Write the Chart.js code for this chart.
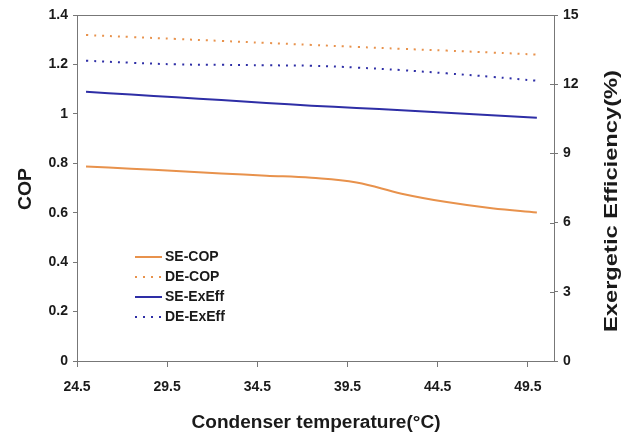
<!DOCTYPE html>
<html>
<head>
<meta charset="utf-8">
<script src="https://cdn.jsdelivr.net/npm/chart.js@4/dist/chart.umd.min.js"></script>
<style>
  body { margin: 0; background: #fff; }
  #wrap { width: 627px; height: 440px; }
</style>
</head>
<body>
<div id="wrap"><canvas id="copChart"></canvas></div>
<script>
// condenser temperature (C)
const temps = [25, 27.5, 30, 32.5, 35, 37.5, 40, 42.5, 45, 47.5, 50];
// COP, left axis
const seCop = [0.787, 0.778, 0.769, 0.759, 0.750, 0.741, 0.722, 0.677, 0.643, 0.618, 0.601];
const deCop = [1.319, 1.311, 1.303, 1.295, 1.287, 1.279, 1.271, 1.263, 1.256, 1.248, 1.240];
// exergetic efficiency (%), right axis
const seExEff = [11.67, 11.55, 11.43, 11.31, 11.19, 11.07, 10.97, 10.87, 10.76, 10.65, 10.55];
const deExEff = [13.02, 12.93, 12.86, 12.84, 12.82, 12.80, 12.72, 12.61, 12.47, 12.32, 12.15];
const xTicks = [24.5, 29.5, 34.5, 39.5, 44.5, 49.5];

const ORANGE = '#E8924C';
const BLUE = '#2E2EA6';
const AXIS = '#777';
const TXT = '#1a1a1a';
const FONT = '"Liberation Sans", Arial, sans-serif';

const pts = (arr) => arr.map((v, i) => ({ x: temps[i], y: v }));

const lineSet = (label, arr, color, dotted, axis) => ({
  label: label,
  data: pts(arr),
  yAxisID: axis,
  borderColor: color,
  backgroundColor: color,
  borderWidth: 2,
  borderDash: dotted ? [2, 6] : [],
  pointRadius: 0,
  fill: false,
  tension: 0.4
});

// titles, legend, top frame line and right-axis cross ticks
const extras = {
  id: 'extras',
  afterDraw(chart) {
    const ctx = chart.ctx;
    const a = chart.chartArea;
    ctx.save();
    ctx.strokeStyle = AXIS;
    ctx.lineWidth = 1;
    ctx.beginPath();
    ctx.moveTo(a.left, a.top + 0.5);
    ctx.lineTo(a.right, a.top + 0.5);
    const y2 = chart.scales.y2;
    y2.ticks.forEach(t => {
      const py = Math.round(y2.getPixelForValue(t.value)) + 0.5;
      ctx.moveTo(a.right - 4, py);
      ctx.lineTo(a.right, py);
    });
    ctx.stroke();

    const title = (text, x, y, rot, width) => {
      ctx.save();
      ctx.translate(x, y);
      ctx.rotate(rot);
      ctx.font = 'bold 18px ' + FONT;
      const w = ctx.measureText(text).width;
      if (width) ctx.scale(width / w, 1);
      ctx.fillStyle = TXT;
      ctx.textAlign = 'center';
      ctx.textBaseline = 'middle';
      ctx.fillText(text, 0, 0);
      ctx.restore();
    };
    title('COP', 26, 189, -Math.PI / 2, 42);
    title('Exergetic Efficiency(%)', 612, 201, -Math.PI / 2, 262);
    title('Condenser temperature(\u00B0C)', 316, 423, 0, 249);

    // legend
    ctx.font = 'bold 14px ' + FONT;
    ctx.textBaseline = 'middle';
    ctx.textAlign = 'left';
    chart.data.datasets.forEach((ds, i) => {
      const y = 257 + i * 20;
      ctx.strokeStyle = ds.borderColor;
      ctx.lineWidth = 2;
      ctx.setLineDash(ds.borderDash);
      ctx.beginPath();
      ctx.moveTo(135, y);
      ctx.lineTo(162, y);
      ctx.stroke();
      ctx.setLineDash([]);
      ctx.fillStyle = TXT;
      ctx.fillText(ds.label, 165, y);
    });
    ctx.restore();
  }
};

const tickFont = { family: FONT, size: 14, weight: 'bold' };

new Chart(document.getElementById('copChart'), {
  type: 'line',
  data: {
    datasets: [
      lineSet('SE-COP', seCop, ORANGE, false, 'y'),
      lineSet('DE-COP', deCop, ORANGE, true, 'y'),
      lineSet('SE-ExEff', seExEff, BLUE, false, 'y2'),
      lineSet('DE-ExEff', deExEff, BLUE, true, 'y2')
    ]
  },
  options: {
    responsive: true,
    maintainAspectRatio: false,
    animation: false,
    layout: { padding: { top: 15, left: 0, right: 0, bottom: 0 } },
    plugins: { legend: { display: false }, tooltip: { enabled: false } },
    scales: {
      x: {
        type: 'linear',
        min: 24.5,
        max: 50.95,
        afterBuildTicks: (axis) => { axis.ticks = xTicks.map(v => ({ value: v })); },
        afterFit: (axis) => { axis.height = 79; },
        border: { color: AXIS },
        grid: { drawOnChartArea: false, tickLength: 6, color: AXIS },
        ticks: { font: tickFont, color: TXT, padding: 12, maxRotation: 0, callback: (v) => v.toFixed(1) }
      },
      y: {
        position: 'left',
        min: 0,
        max: 1.4,
        afterFit: (axis) => { axis.width = 77; },
        border: { color: AXIS },
        grid: { drawOnChartArea: false, tickLength: 4, color: AXIS },
        ticks: { stepSize: 0.2, font: tickFont, color: TXT, padding: 5, callback: (v) => +v.toFixed(1) }
      },
      y2: {
        position: 'right',
        min: 0,
        max: 15,
        afterFit: (axis) => { axis.width = 73; },
        border: { color: AXIS },
        grid: { drawOnChartArea: false, tickLength: 4, color: AXIS },
        ticks: { stepSize: 3, font: tickFont, color: TXT, padding: 5 }
      }
    }
  },
  plugins: [extras]
});
</script>
</body>
</html>
